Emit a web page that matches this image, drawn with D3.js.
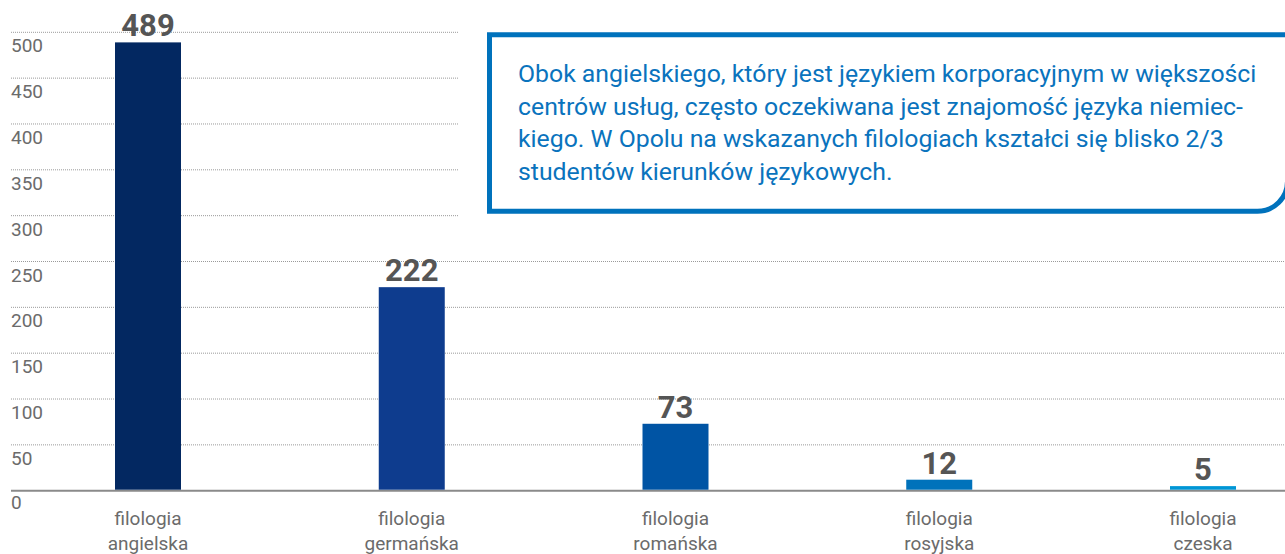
<!DOCTYPE html>
<html>
<head>
<meta charset="utf-8">
<script src="https://cdn.jsdelivr.net/npm/d3@7"></script>
<style>
  body { margin: 0; background: #fff; }
  svg { display: block; font-family: Roboto, "Noto Sans", sans-serif; }
</style>
</head>
<body>
<div id="chart"></div>
<script>
const categories = ["filologia angielska", "filologia germańska", "filologia romańska", "filologia rosyjska", "filologia czeska"];
const values = [489, 222, 73, 12, 5];
const barColors = ["#032861", "#0e3c8e", "#0054a4", "#0072bb", "#0096d6"];
const tickValues = [0, 50, 100, 150, 200, 250, 300, 350, 400, 450, 500];
const noteLines = [
  "Obok angielskiego, który jest językiem korporacyjnym w większości",
  "centrów usług, często oczekiwana jest znajomość języka niemiec-",
  "kiego. W Opolu na wskazanych filologiach kształci się blisko 2/3",
  "studentów kierunków językowych."
];

const width = 1285, height = 554;
const margin = { top: 32.3, right: 82, bottom: 63.3, left: 148 };

const svg = d3.select("#chart").append("svg")
  .attr("width", width)
  .attr("height", height);

const x = d3.scalePoint()
  .domain(categories)
  .range([margin.left, width - margin.right]);

const y = d3.scaleLinear()
  .domain([0, 500])
  .range([height - margin.bottom, margin.top]);

const barWidth = 66;

// grid lines + tick labels
const grid = svg.append("g");
grid.selectAll("line")
  .data(tickValues.filter(d => d > 0))
  .join("line")
  .attr("x1", 11)
  .attr("x2", width)
  .attr("y1", d => y(d))
  .attr("y2", d => y(d))
  .attr("stroke", "#9a9a9a")
  .attr("stroke-width", 1)
  .attr("stroke-dasharray", "1,1");

grid.selectAll("text")
  .data(tickValues)
  .join("text")
  .attr("x", 11)
  .attr("y", d => y(d) + (d === 0 ? 18.5 : 20))
  .attr("font-size", 19)
  .attr("fill", "#6b6b6b")
  .text(d => d);

// baseline
svg.append("line")
  .attr("x1", 11)
  .attr("x2", width)
  .attr("y1", y(0))
  .attr("y2", y(0))
  .attr("stroke", "#8a8a8a")
  .attr("stroke-width", 2);

// bars
svg.append("g")
  .selectAll("rect")
  .data(values)
  .join("rect")
  .attr("x", (d, i) => x(categories[i]) - barWidth / 2)
  .attr("y", d => y(d))
  .attr("width", barWidth)
  .attr("height", d => y(0) - y(d) - 1)
  .attr("fill", (d, i) => barColors[i]);

// value labels
svg.append("g")
  .selectAll("text")
  .data(values)
  .join("text")
  .attr("x", (d, i) => x(categories[i]))
  .attr("y", d => y(d) - 6)
  .attr("text-anchor", "middle")
  .attr("font-size", 31)
  .attr("font-weight", "bold")
  .attr("fill", "#555")
  .text(d => d);

// category labels (two lines)
const cat = svg.append("g")
  .selectAll("text")
  .data(categories)
  .join("text")
  .attr("x", d => x(d))
  .attr("y", 525)
  .attr("text-anchor", "middle")
  .attr("font-size", 19)
  .attr("fill", "#6b6b6b");
cat.selectAll("tspan")
  .data(d => d.split(" "))
  .join("tspan")
  .attr("x", function () { return d3.select(this.parentNode).attr("x"); })
  .attr("dy", (d, i) => i === 0 ? 0 : 25)
  .text(d => d);

// note box
const note = svg.append("g");
note.append("rect")
  .attr("x", 459)
  .attr("y", 0)
  .attr("width", width - 459)
  .attr("height", 222)
  .attr("fill", "#fff");

const bx = 489.5, by = 34.8, bw = 798, bh = 176.5, r = 30;
note.append("path")
  .attr("d", `M${bx},${by} H${bx + bw} V${by + bh - r} A${r},${r} 0 0 1 ${bx + bw - r},${by + bh} H${bx} Z`)
  .attr("fill", "#fff")
  .attr("stroke", "#0072bc")
  .attr("stroke-width", 5);

note.append("text")
  .attr("font-size", 24.8)
  .attr("fill", "#0a73bd")
  .selectAll("tspan")
  .data(noteLines)
  .join("tspan")
  .attr("x", 518)
  .attr("y", (d, i) => 82 + i * 32.6)
  .text(d => d);
</script>
</body>
</html>
